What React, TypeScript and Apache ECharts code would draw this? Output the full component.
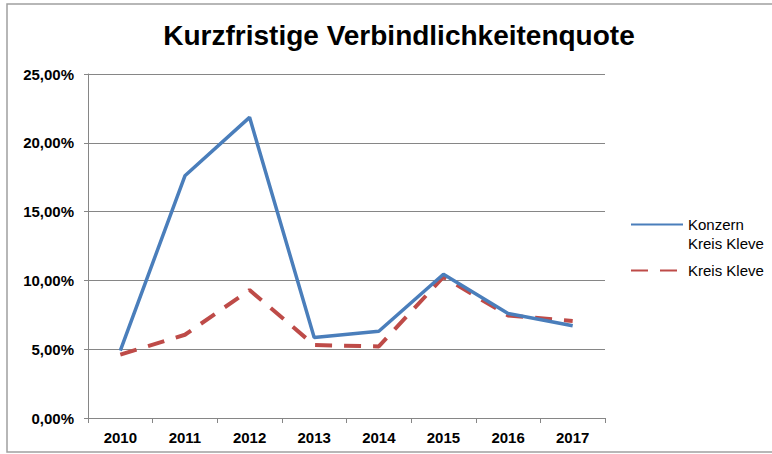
import React, { useEffect, useRef } from "react";
import * as echarts from "echarts";

const title = "Kurzfristige Verbindlichkeitenquote";
const years = ["2010", "2011", "2012", "2013", "2014", "2015", "2016", "2017"];
const konzernName = "Konzern Kreis Kleve";
const kreisName = "Kreis Kleve";
const konzernValues = [4.9, 17.6, 21.85, 5.85, 6.3, 10.45, 7.6, 6.7];
const kreisValues = [4.6, 6.05, 9.3, 5.3, 5.2, 10.25, 7.45, 7.05];

const FONT = "'Liberation Sans', Arial, sans-serif";

export default function App() {
  const ref = useRef<HTMLDivElement>(null);
  useEffect(() => {
    if (!ref.current) return;
    const chart = echarts.init(ref.current, null, { renderer: "svg" });
    chart.setOption({
      animation: false,
      backgroundColor: "#ffffff",
      title: {
        text: title,
        left: 394,
        textAlign: "center",
        top: 16,
        textStyle: { fontFamily: FONT, fontSize: 28, fontWeight: "bold", color: "#000" },
      },
      graphic: [
        {
          type: "rect",
          shape: { x: 7, y: 4, width: 780, height: 448 },
          style: { fill: "none", stroke: "#a0a0a0", lineWidth: 1.5 },
          silent: true,
        },
      ],
      legend: {
        orient: "vertical",
        left: 630,
        top: 198,
        padding: 0,
        itemWidth: 52,
        itemHeight: 14,
        itemGap: 12,
        itemStyle: { opacity: 0 },
        textStyle: {
          fontFamily: FONT,
          fontSize: 15,
          color: "#000",
          rich: {
            s: { fontSize: 15, lineHeight: 19, fontFamily: FONT },
            t: { fontSize: 15, lineHeight: 19, fontFamily: FONT, color: "#000" },
          },
        },
        formatter: (name: string) =>
          name === konzernName ? "{s| }\n{t|Konzern}\n{t|Kreis Kleve}" : "{t|" + name + "}",
        data: [konzernName, kreisName],
      },
      grid: { left: 88, right: 167, top: 74, bottom: 36 },
      xAxis: {
        type: "category",
        data: years,
        boundaryGap: true,
        axisLine: { lineStyle: { color: "#868686", width: 1 } },
        axisTick: { show: true, length: 5, inside: false, lineStyle: { color: "#868686" } },
        axisLabel: {
          fontFamily: FONT,
          fontSize: 15,
          fontWeight: "bold",
          color: "#000",
          margin: 12,
        },
      },
      yAxis: {
        type: "value",
        min: 0,
        max: 25,
        interval: 5,
        axisLine: { show: true, lineStyle: { color: "#868686", width: 1 } },
        axisTick: { show: true, length: 4, lineStyle: { color: "#868686" } },
        splitLine: { show: true, lineStyle: { color: "#868686", width: 1 } },
        axisLabel: {
          fontFamily: FONT,
          fontSize: 15,
          fontWeight: "bold",
          color: "#000",
          margin: 14,
          formatter: (v: number) => v.toFixed(2).replace(".", ",") + "%",
        },
      },
      series: [
        {
          name: konzernName,
          type: "line",
          data: konzernValues,
          symbol: "none",
          z: 3,
          lineStyle: { color: "#4A7EBB", width: 3.5 },
          itemStyle: { color: "#4A7EBB" },
        },
        {
          name: kreisName,
          type: "line",
          data: kreisValues,
          symbol: "none",
          z: 2,
          lineStyle: { color: "#BE4B48", width: 4, type: [17, 12] },
          itemStyle: { color: "#BE4B48" },
        },
      ],
    });
    return () => chart.dispose();
  }, []);
  return <div ref={ref} style={{ width: 772, height: 454, position: "absolute", left: 0, top: 0 }} />;
}
